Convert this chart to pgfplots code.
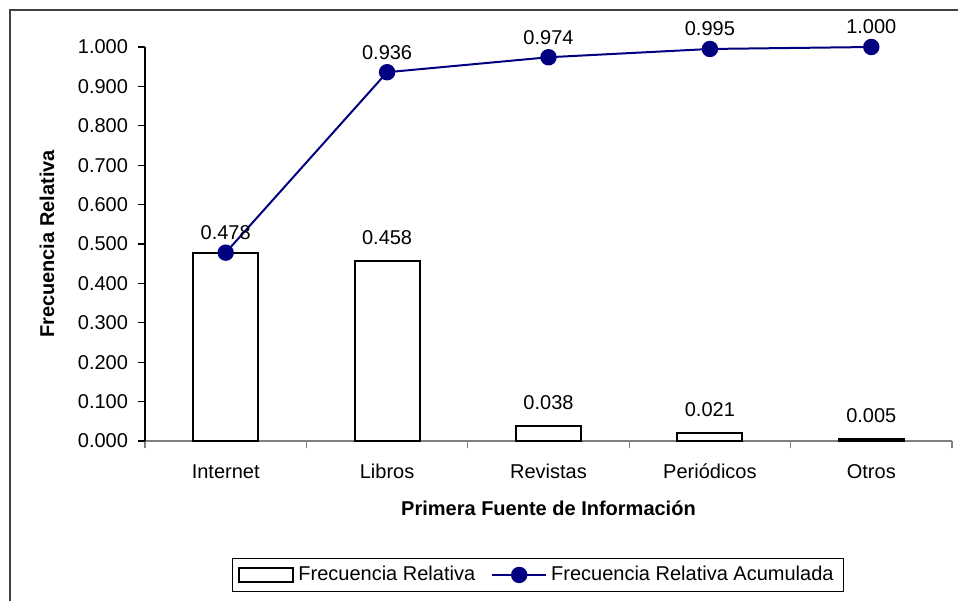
\documentclass[border=0pt]{standalone}
\usepackage{fontspec}
\setmainfont{Liberation Sans}
\usepackage{pgfplots}
\pgfplotsset{compat=1.18}
\definecolor{navyline}{RGB}{0,0,128}
\definecolor{framegray}{RGB}{64,64,64}
\definecolor{axgray}{RGB}{128,128,128}
\pgfplotsset{
  barleg/.style={legend image code/.code={\draw[##1, line width=1pt] (0pt,-3.5pt) rectangle (27pt,3.5pt);}},
  lineleg/.style={legend image code/.code={\draw[mark repeat=2,mark phase=2,##1] plot coordinates {(0pt,0pt) (13.5pt,0pt) (27pt,0pt)};}},
}
\begin{document}
\begin{tikzpicture}
\useasboundingbox (-72.5pt,-79.5pt) rectangle (406.5pt,220.5pt);
\draw[framegray, line width=0.7pt] (-67.5pt,-140pt) |- (460pt,215.5pt);
\begin{axis}[
  at={(0pt,0pt)}, anchor=south west,
  scale only axis, width=403.5pt, height=197pt,
  xmin=-0.5, xmax=4.5, ymin=0, ymax=1,
  clip=false,
  axis x line*=bottom, axis y line*=left,
  x axis line style={draw=axgray, line width=0.6pt},
  y axis line style={draw=black, line width=0.6pt},
  xtick={0,1,2,3,4},
  xticklabels={Internet,Libros,Revistas,Periódicos,Otros},
  major x tick style={draw=none},
  minor xtick={-0.5,0.5,1.5,2.5,3.5,4.5},
  minor x tick style={draw=axgray, line width=0.6pt},
  tick align=outside, major tick length=3.5pt, minor tick length=3.5pt,
  ytick={0,0.1,0.2,0.3,0.4,0.5,0.6,0.7,0.8,0.9,1.0},
  major y tick style={draw=black, line width=0.6pt},
  /pgf/number format/.cd, fixed, fixed zerofill, precision=3, assume math mode=true,
  /pgfplots/.cd,
  yticklabel style={anchor=east, xshift=-1.5pt, font=\fontsize{10}{12}\selectfont},
  xticklabel style={anchor=base, yshift=-15.1pt, font=\fontsize{10}{12}\selectfont},
  xlabel={\bfseries Primera Fuente de Información},
  xlabel style={at={(axis description cs:0.5,-0.170)}, anchor=center},
  ylabel={\bfseries Frecuencia Relativa},
  ylabel style={at={(axis description cs:-0.1214,0.5)}, anchor=center},
  legend columns=2,
  legend style={at={(axis description cs:0.487,-0.340)}, anchor=center,
    draw=black, line width=0.5pt, inner xsep=3pt, inner ysep=2pt,
    font=\fontsize{10}{12}\selectfont,
    /tikz/every even column/.append style={column sep=6pt}},
  legend cell align=left,
]
\addplot[ybar, bar width=32.5pt, bar shift=0pt, fill=white, draw=black, line width=1pt, barleg]
  coordinates {(0,0.478)};
\addlegendentry{Frecuencia Relativa}
\addplot[ybar, bar width=32.5pt, bar shift=0pt, fill=white, draw=black, line width=1pt, forget plot,
  nodes near coords,
  every node near coord/.style={anchor=center, yshift=11.5pt, text=black, font=\fontsize{10}{12}\selectfont}]
  coordinates {(1,0.458) (2,0.038) (3,0.021) (4,0.005)};
\addplot[navyline, line width=1pt, mark=*, mark size=3.6pt,
  mark options={fill=navyline, draw=navyline},
  nodes near coords,
  every node near coord/.style={anchor=center, yshift=10pt, text=black, font=\fontsize{10}{12}\selectfont},
  lineleg]
  coordinates {(0,0.478) (1,0.936) (2,0.974) (3,0.995) (4,1.000)};
\addlegendentry{Frecuencia Relativa Acumulada}
\end{axis}
\end{tikzpicture}
\end{document}
